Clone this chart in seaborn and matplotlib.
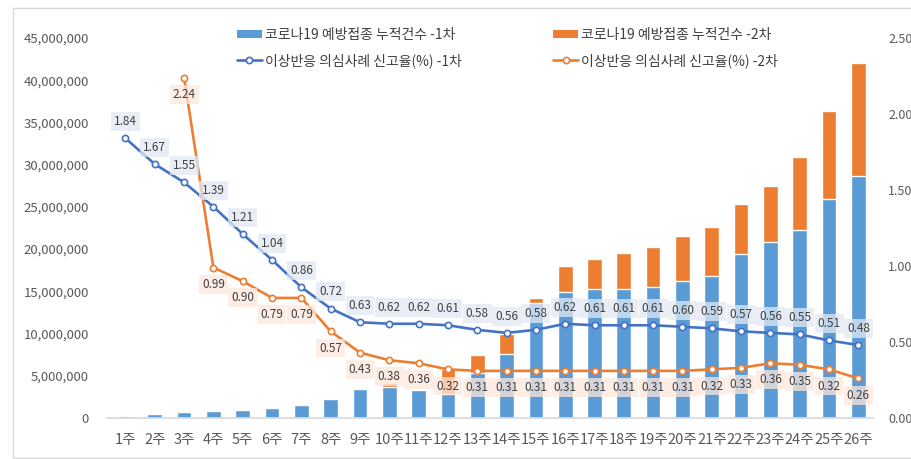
import numpy as np
import pandas as pd
import matplotlib
matplotlib.use("Agg")
import matplotlib.pyplot as plt
from matplotlib.patches import Patch, Rectangle
from matplotlib.lines import Line2D
from matplotlib.ticker import FuncFormatter, MultipleLocator
import seaborn as sns

# ---- data ----
weeks = [f"{i}주" for i in range(1, 27)]
dose1_count = [0.2e6, 0.47e6, 0.7e6, 0.83e6, 0.95e6, 1.15e6, 1.55e6, 2.2e6, 3.4e6, 3.7e6,
               3.3e6, 2.9e6, 5.3e6, 7.6e6, 13.65e6, 14.96e6, 15.3e6, 15.3e6, 15.55e6, 16.2e6,
               16.85e6, 19.4e6, 20.9e6, 22.3e6, 25.9e6, 28.66e6]
dose2_count = [0, 0, 0, 0, 0, 0, 0, 0.05e6, 0.2e6, 0.5e6,
               0.15e6, 2.9e6, 2.16e6, 2.3e6, 0.6e6, 3.04e6, 3.5e6, 4.2e6, 4.75e6, 5.35e6,
               5.8e6, 6.0e6, 6.6e6, 8.65e6, 10.4e6, 13.34e6]
rate1 = [1.84, 1.67, 1.55, 1.39, 1.21, 1.04, 0.86, 0.72, 0.63, 0.62, 0.62, 0.61, 0.58,
         0.56, 0.58, 0.62, 0.61, 0.61, 0.61, 0.60, 0.59, 0.57, 0.56, 0.55, 0.51, 0.48]
rate2 = [np.nan, np.nan, 2.24, 0.99, 0.90, 0.79, 0.79, 0.57, 0.43, 0.38, 0.36, 0.32, 0.31,
         0.31, 0.31, 0.31, 0.31, 0.31, 0.31, 0.31, 0.32, 0.33, 0.36, 0.35, 0.32, 0.26]

label_bar1 = "코로나19 예방접종 누적건수 -1차"
label_bar2 = "코로나19 예방접종 누적건수 -2차"
label_line1 = "이상반응 의심사례 신고율(%) -1차"
label_line2 = "이상반응 의심사례 신고율(%) -2차"

BLUE_BAR = "#5B9BD5"
ORANGE = "#ED7D31"
BLUE_LINE = "#4472C4"
TXT = "#595959"

sns.set_theme(style="white")
plt.rcParams["font.family"] = ["Noto Sans CJK KR", "DejaVu Sans"]

df = pd.DataFrame({"week": weeks, "d1": dose1_count, "d2": dose2_count,
                   "r1": rate1, "r2": rate2})
df["total"] = df["d1"] + df["d2"]
df["idx"] = np.arange(len(df))

W, H = 911, 459
fig = plt.figure(figsize=(W / 100, H / 100), dpi=100)
ax = fig.add_axes([107 / W, 41 / H, (873 - 107) / W, (418 - 38) / H])

sns.barplot(data=df, x="week", y="total", color=ORANGE, width=0.5, saturation=1,
            errorbar=None, ax=ax)
sns.barplot(data=df, x="week", y="d1", color=BLUE_BAR, width=0.5, saturation=1,
            errorbar=None, ax=ax)
ax.set_ylim(0, 45e6)
ax.set_xlim(-0.63, 25.5)
ax.yaxis.set_major_locator(MultipleLocator(5e6))
ax.yaxis.set_major_formatter(FuncFormatter(lambda v, p: f"{int(v):,}"))
ax.set_xlabel("")
ax.set_ylabel("")
for s in ["top", "left", "right"]:
    ax.spines[s].set_visible(False)
ax.spines["bottom"].set_color("#d9d9d9")
ax.tick_params(axis="x", length=0, pad=11, labelsize=10.5, colors=TXT)
ax.tick_params(axis="y", length=0, pad=13, labelsize=9.5, colors=TXT)

ax2 = ax.twinx()
sns.lineplot(data=df, x="idx", y="r1", ax=ax2, color=BLUE_LINE, linewidth=1.9,
             marker="o", markersize=4.5, markerfacecolor="white",
             markeredgecolor=BLUE_LINE, markeredgewidth=1.2, legend=False)
sns.lineplot(data=df.dropna(subset=["r2"]), x="idx", y="r2", ax=ax2, color=ORANGE,
             linewidth=1.9, marker="o", markersize=4.5, markerfacecolor="white",
             markeredgecolor=ORANGE, markeredgewidth=1.2, legend=False)
ax2.set_ylim(0, 2.5)
ax2.set_xlim(-0.63, 25.5)
ax2.yaxis.set_major_locator(MultipleLocator(0.5))
ax2.yaxis.set_major_formatter(FuncFormatter(lambda v, p: f"{v:.2f}"))
ax2.set_xlabel("")
ax2.set_ylabel("")
for s in ["top", "left", "right", "bottom"]:
    ax2.spines[s].set_visible(False)
ax2.tick_params(axis="y", length=0, pad=11, labelsize=9, colors=TXT)

for i, (a, b) in enumerate(zip(rate1, rate2)):
    ax2.annotate(f"{a:.2f}", (i, a), xytext=(0, 12), textcoords="offset points",
                 ha="center", va="center", fontsize=8.5, color="#404040",
                 bbox=dict(boxstyle="square,pad=0.25", fc="#e2e9f3", ec="none", alpha=0.75),
                 zorder=5)
    if not np.isnan(b):
        ax2.annotate(f"{b:.2f}", (i, b), xytext=(0, -12), textcoords="offset points",
                     ha="center", va="center", fontsize=8.5, color="#404040",
                     bbox=dict(boxstyle="square,pad=0.25", fc="#fde8dc", ec="none", alpha=0.75),
                     zorder=5)

handles = [
    Patch(facecolor=BLUE_BAR, edgecolor="none"),
    Line2D([], [], color=BLUE_LINE, lw=1.9, marker="o", ms=4.5, mfc="white",
           mec=BLUE_LINE, mew=1.2),
    Patch(facecolor=ORANGE, edgecolor="none"),
    Line2D([], [], color=ORANGE, lw=1.9, marker="o", ms=4.5, mfc="white",
           mec=ORANGE, mew=1.2),
]
labels = [label_bar1, label_line1, label_bar2, label_line2]
fig.legend(handles, labels, loc="upper left", bbox_to_anchor=(230 / W, 1 - 21 / H),
           ncol=2, frameon=False, fontsize=10, borderpad=0, handlelength=1.8,
           handletextpad=0.2, labelspacing=0.8, columnspacing=6.6,
           labelcolor="#404040", handleheight=0.55)

fig.patches.append(Rectangle((13 / W, 1 / H), 1.0, (459 - 9) / H, transform=fig.transFigure,
                             fill=False, edgecolor="#d9d9d9", lw=1.0))

fig.savefig("out.png", dpi=100)
